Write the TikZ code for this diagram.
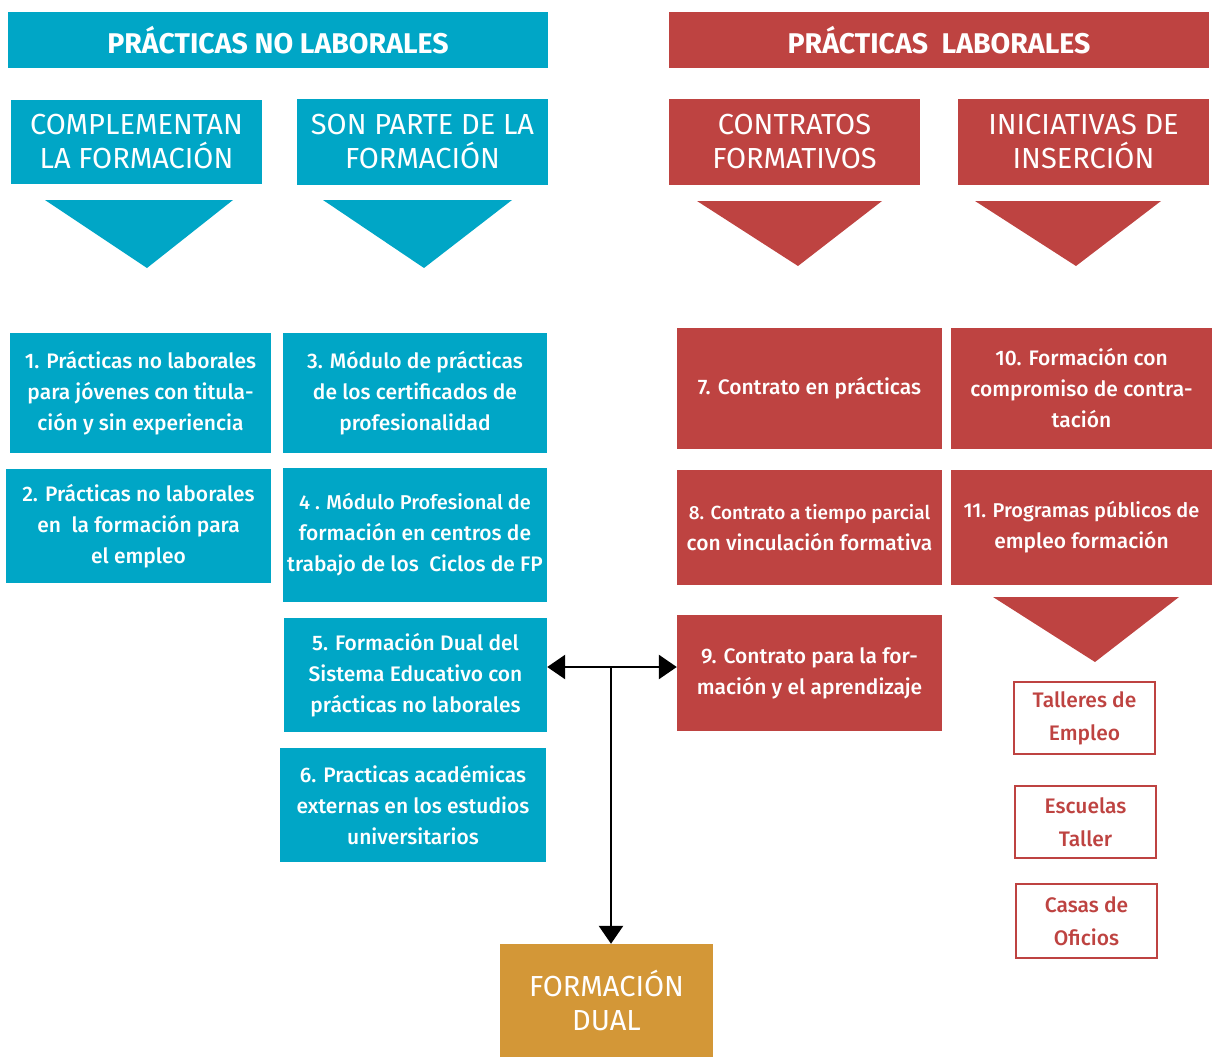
\documentclass[tikz,border=0pt]{standalone}
\usepackage{fontspec}
\setmainfont{Fira Sans}[UprightFont=* Medium, BoldFont=* Bold]
\newfontfamily\ligera{Fira Sans}
\usetikzlibrary{arrows.meta, positioning}
\definecolor{azul}{HTML}{00A6C6}
\definecolor{rojo}{HTML}{BE4341}
\definecolor{oro}{HTML}{D39737}
\tikzset{
  caja/.style={inner sep=0pt, align=center, text=white,
               font=\fontsize{21}{31}\selectfont},
  cabecera/.style={caja, font=\bfseries\fontsize{28.5}{30}\selectfont},
  titulo/.style={caja, font=\ligera\fontsize{29}{34}\selectfont},
  marco/.style={draw=rojo, line width=2.5pt, fill=white, text=rojo, inner sep=0pt,
                align=center, font=\fontsize{21}{33}\selectfont},
  flecha/.style={line width=2.7pt, black},
}

\begin{document}
\begin{tikzpicture}[x=1pt, y=-1pt]
  \useasboundingbox (0,0) rectangle (1213,1057);

  % Cabeceras
  \node[cabecera, fill=azul, minimum width=540, minimum height=56] (nolab) at (278,40)
    {PRÁCTICAS NO LABORALES};
  \node[cabecera, fill=rojo, minimum width=540, minimum height=56] (lab) at (939,40)
    {PRÁCTICAS~~LABORALES};

  % Titulos
  \node[titulo, fill=azul, minimum width=251, minimum height=84] (compl) at (136.5,142)
    {COMPLEMENTAN\\LA FORMACIÓN};
  \node[titulo, fill=azul, minimum width=251, minimum height=86] (parte) at (422.5,142)
    {SON PARTE DE LA\\FORMACIÓN};
  \node[titulo, fill=rojo, minimum width=251, minimum height=86] (contr) at (794.5,142)
    {CONTRATOS\\FORMATIVOS};
  \node[titulo, fill=rojo, minimum width=251, minimum height=86] (inic) at (1083.5,142)
    {INICIATIVAS DE\\INSERCIÓN};

  % Triangulos
  \fill[azul] (45,200) -- (233,200) -- (147,268) -- cycle;
  \fill[azul] (323,200) -- (512,200) -- (424,268) -- cycle;
  \fill[rojo] (697,201) -- (882,201) -- (798,266) -- cycle;
  \fill[rojo] (975,201) -- (1161,201) -- (1076,266) -- cycle;
  \fill[rojo] (993,597) -- (1179,597) -- (1095,662) -- cycle;

  % Practicas no laborales
  \node[caja, fill=azul, minimum width=261, minimum height=120] (p1) at (140.5,393)
    {1. Prácticas no laborales\\para jóvenes con titula-\\ción y sin experiencia};
  \node[caja, fill=azul, minimum width=265, minimum height=114] (p2) at (138.5,526)
    {2. Prácticas no laborales\\en\ \ la formación para\\el empleo};
  \node[caja, fill=azul, minimum width=264, minimum height=120] (p3) at (415,393)
    {3. Módulo de prácticas\\de los certificados de\\profesionalidad};
  \node[caja, fill=azul, minimum width=264, minimum height=134] (p4) at (415,535)
    {\fontsize{20}{32}\selectfont 4 . Módulo Profesional de\\formación en centros de\\trabajo de los\ \ Ciclos de FP};
  \node[caja, fill=azul, minimum width=263, minimum height=114] (p5) at (415.5,675)
    {5. Formación Dual del\\Sistema Educativo con\\prácticas no laborales};
  \node[caja, fill=azul, minimum width=266, minimum height=114] (p6) at (413,805)
    {6. Practicas académicas\\externas en los estudios\\universitarios};

  % Practicas laborales
  \node[caja, fill=rojo, minimum width=265, minimum height=121] (p7) at (809.5,388.5)
    {7. Contrato en prácticas};
  \node[caja, fill=rojo, minimum width=265, minimum height=115] (p8) at (809.5,527.5)
    {\fontsize{19}{33}\selectfont 8. Contrato a tiempo parcial\\con vinculación formativa};
  \node[caja, fill=rojo, minimum width=265, minimum height=116] (p9) at (809.5,673)
    {9. Contrato para la for-\\mación y el aprendizaje};
  \node[caja, fill=rojo, minimum width=261, minimum height=121] (p10) at (1081.5,388.5)
    {10. Formación con\\compromiso de contra-\\tación};
  \node[caja, fill=rojo, minimum width=261, minimum height=115] (p11) at (1081.5,527.5)
    {\fontsize{20}{33}\selectfont 11. Programas públicos de\\empleo formación};

  % Iniciativas
  \node[marco, minimum width=141, minimum height=72] (taller) at (1084.5,718)
    {Talleres de\\Empleo};
  \node[marco, minimum width=141, minimum height=72] (escuela) at (1085.5,822)
    {Escuelas\\Taller};
  \node[marco, minimum width=141, minimum height=74] (casas) at (1086.5,921)
    {Casas de\\Oficios};

  % Formacion dual
  \node[titulo, fill=oro, minimum width=213, minimum height=113] (dual) at (606.5,1000.5)
    {FORMACIÓN\\DUAL};

  % Flechas
  \coordinate (m) at (611,667);
  \draw[flecha, {Triangle[length=18pt, width=24pt]}-{Triangle[length=18pt, width=24pt]}]
    (p5.east |- m) -- (p9.west |- m);
  \draw[flecha, -{Triangle[length=18pt, width=24pt]}] (m) -- (m |- dual.north);
\end{tikzpicture}
\end{document}
